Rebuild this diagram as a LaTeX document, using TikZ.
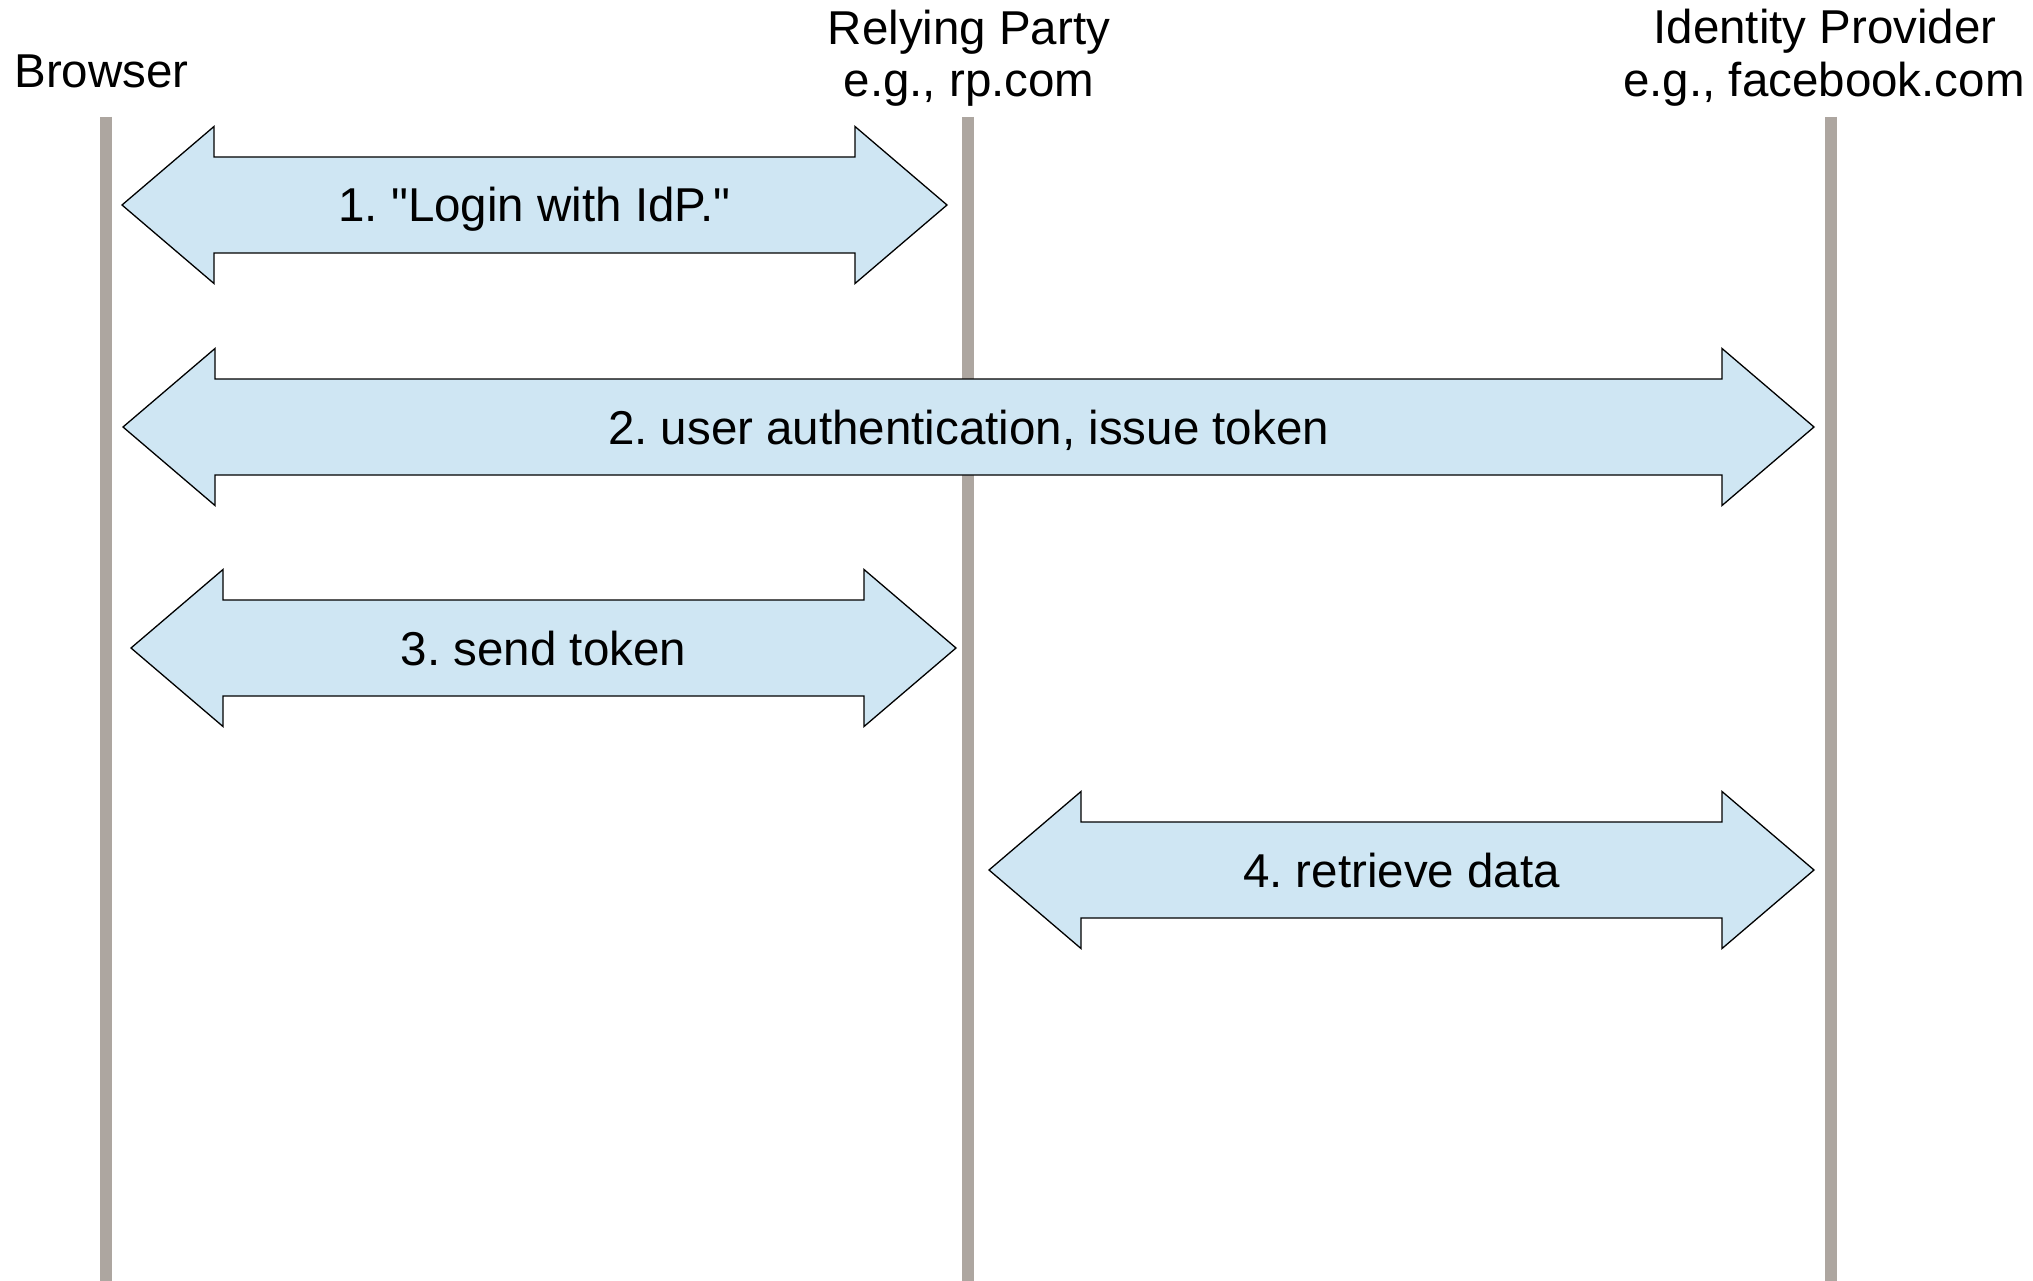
\documentclass[tikz,border=0pt]{standalone}
\usepackage{fontspec}
\setmainfont{Liberation Sans}[Ligatures=TeXOff]
\frenchspacing
\usetikzlibrary{calc}
\definecolor{life}{RGB}{173,166,160}
\definecolor{arrowfill}{RGB}{207,230,243}
\newcommand\dblarrow[2]{%
  \draw[blockarrow] (#1) -- ++(92,-78.5) -- ++(0,30.5) -- ($(#2)+(-92,-48)$)
    -- ++(0,-30.5) -- (#2) -- ++(-92,78.5) -- ++(0,-30.5)
    -- ($(#1)+(92,48)$) -- ++(0,30.5) -- cycle;}
\begin{document}
\begin{tikzpicture}[x=1pt,y=-1pt,
  lifeline/.style={line width=12pt, draw=life},
  hdr/.style={anchor=base, inner sep=0pt, font=\fontsize{47.5}{52}\selectfont},
  msg/.style={anchor=base, inner sep=0pt, font=\fontsize{47.5}{52}\selectfont},
  blockarrow/.style={draw=black, line width=1.3pt, fill=arrowfill, line join=miter}]
\useasboundingbox (0,0) rectangle (2033,1281);
\fill[white] (0,0) rectangle (2033,1281);

% lifelines
\coordinate (bt) at (106,117);  \coordinate (bb) at (106,1281);
\coordinate (rt) at (968,117);  \coordinate (rb) at (968,1281);
\coordinate (it) at (1831,117); \coordinate (ib) at (1831,1281);
\draw[lifeline] (bt) -- (bb);
\draw[lifeline] (rt) -- (rb);
\draw[lifeline] (it) -- (ib);

% headers
\node[hdr] (hb)  at (101.5,88) {Browser};
\node[hdr] (hr1) at (969,45) {Relying Party};
\node[hdr] (hr2) at (969,97) {e.g., rp.com};
\node[hdr] (hi1) at (1825,44) {Identity Provider};
\node[hdr] (hi2) at (1824,97) {e.g., facebook.com};

% block arrows
\coordinate (a1l) at (122,205);  \coordinate (a1r) at (947,205);
\coordinate (a2l) at (123,427);  \coordinate (a2r) at (1814,427);
\coordinate (a3l) at (131,648);  \coordinate (a3r) at (956,648);
\coordinate (a4l) at (989,870);  \coordinate (a4r) at (1814,870);
\dblarrow{a1l}{a1r}
\dblarrow{a2l}{a2r}
\dblarrow{a3l}{a3r}
\dblarrow{a4l}{a4r}

\node[msg] (m1) at ($(a1l)!0.5!(a1r)+(0,17)$) {1. "Login with IdP."};
\node[msg] (m2) at ($(a2l)!0.5!(a2r)+(0,17)$) {2. user authentication, issue token};
\node[msg] (m3) at ($(a3l)!0.5!(a3r)+(0,17)$) {3. send token};
\node[msg] (m4) at ($(a4l)!0.5!(a4r)+(0,17)$) {4. retrieve data};
\end{tikzpicture}
\end{document}
